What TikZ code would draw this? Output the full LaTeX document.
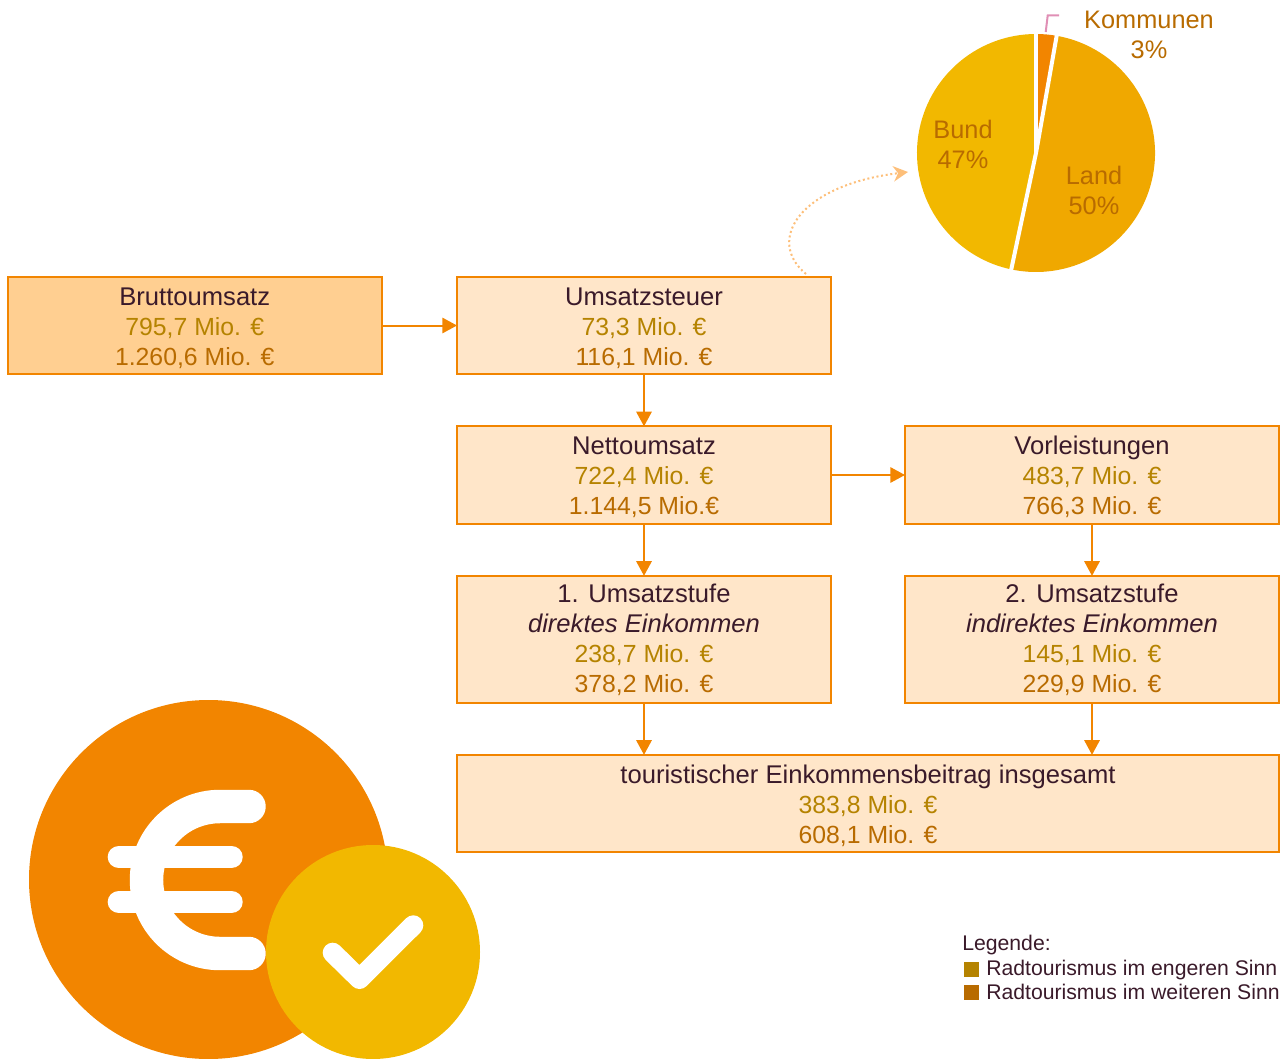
\documentclass[tikz,border=0pt]{standalone}
\usepackage{fontspec}
\setmainfont{Liberation Sans}
\usetikzlibrary{arrows.meta,calc}
\definecolor{orangeM}{HTML}{F28500}
\definecolor{yellowM}{HTML}{F2B800}
\definecolor{landM}{HTML}{F0A800}
\definecolor{boxL}{HTML}{FFE6C9}
\definecolor{boxD}{HTML}{FFCF91}
\definecolor{darkT}{HTML}{3A1A2A}
\definecolor{engT}{HTML}{B58300}
\definecolor{weiT}{HTML}{B86B00}
\definecolor{arcL}{HTML}{FDBF7A}
\definecolor{pinkL}{HTML}{E08FB5}
\newcommand{\eng}[1]{{\fontsize{18.6pt}{22.5pt}\selectfont\textcolor{engT}{#1}}}
\newcommand{\wei}[1]{{\fontsize{18.6pt}{22.5pt}\selectfont\textcolor{weiT}{#1}\rule[-3.2pt]{0pt}{3.2pt}}}
\newcommand{\topthree}{\rule{0pt}{18pt}}
\newcommand{\topfour}{\rule{0pt}{15.7pt}}
\tikzset{
  flowbox/.style={draw=orangeM,fill=boxL,line width=1.5pt,inner sep=0pt,outer sep=0pt,
    align=center,text=darkT,minimum width=280.5pt,minimum height=73pt,
    font=\fontsize{19.2pt}{22.5pt}\selectfont},
  flowarrow/.style={draw=orangeM,line width=1.5pt,-{Triangle[length=11pt,width=11.5pt]}},
  pielabel/.style={inner sep=0pt,align=center,text=weiT,font=\fontsize{19pt}{22.5pt}\selectfont},
  legendtext/.style={inner sep=0pt,anchor=base west,text=darkT,font=\fontsize{15.9pt}{18pt}\selectfont},
  legendkey/.style={inner sep=0pt,minimum size=11.25pt,anchor=north west}
}
\begin{document}
\begin{tikzpicture}[x=0.75pt,y=-0.75pt]
\useasboundingbox (0,0) rectangle (1284,1059);
% pie
\coordinate (pc) at (1036,153);
\fill[yellowM] (pc) -- ++(102:119) arc[start angle=102,end angle=270,radius=119] -- cycle;
\fill[landM] (pc) -- ++(-80:119) arc[start angle=-80,end angle=102,radius=119] -- cycle;
\fill[orangeM] (pc) -- ++(-90:119) arc[start angle=-90,end angle=-80,radius=119] -- cycle;
\draw[white,line width=3pt] (pc) -- ++(-90:121);
\draw[white,line width=3pt,line join=bevel] ($(pc)+(-80:121)$) -- (pc) -- ($(pc)+(102:121)$);
\node[pielabel] (lbund) at (963,144) {Bund\\47\%};
\node[pielabel] (lland) at (1094,190) {Land\\50\%};
\node[pielabel] (lkomm) at (1149,35) {Kommunen\\3\%};
\coordinate (la) at (1045.7,32);
\coordinate (lb) at (1047.7,15.5);
\coordinate (lc) at (1059,15.5);
\draw[pinkL,line width=1.5pt] (la) -- (lb) -- (lc);
% boxes
\node[flowbox,fill=boxD] (brutto) at (194.75,325.5) {\topthree Bruttoumsatz\\\eng{795,7 Mio. €}\\\wei{1.260,6 Mio. €}};
\node[flowbox] (ust) at (644,325.5) {\topthree Umsatzsteuer\\\eng{73,3 Mio. €}\\\wei{116,1 Mio. €}};
\node[flowbox] (netto) at (644,475) {\topthree Nettoumsatz\\\eng{722,4 Mio. €}\\\wei{1.144,5 Mio.€}};
\node[flowbox] (vor) at (1092,475) {\topthree Vorleistungen\\\eng{483,7 Mio. €}\\\wei{766,3 Mio. €}};
\node[flowbox,minimum height=95.5pt] (st1) at (644,639.5) {\topfour 1. Umsatzstufe\\\textit{direktes Einkommen}\\\eng{238,7 Mio. €}\\\wei{378,2 Mio. €}};
\node[flowbox,minimum height=95.5pt] (st2) at (1092,639.5) {\topfour 2. Umsatzstufe\\\textit{indirektes Einkommen}\\\eng{145,1 Mio. €}\\\wei{229,9 Mio. €}};
\node[flowbox,minimum width=616.5pt] (tot) at (868,803.5) {\topthree touristischer Einkommensbeitrag insgesamt\\\eng{383,8 Mio. €}\\\wei{608,1 Mio. €}};
% connectors
\draw[flowarrow] (brutto) -- (ust);
\draw[flowarrow] (ust) -- (netto);
\draw[flowarrow] (netto) -- (vor);
\draw[flowarrow] (netto) -- (st1);
\draw[flowarrow] (vor) -- (st2);
\draw[flowarrow] (st1.south) -- (st1.south |- tot.north);
\draw[flowarrow] (st2.south) -- (st2.south |- tot.north);
\coordinate (arcstart) at (806,274);
\coordinate (arcend) at (908,172);
\draw[arcL,line width=1.5pt,dotted,-{Stealth[length=11pt,width=11.5pt,inset=3.5pt]}] (arcstart) .. controls (765,240) and (800,185) .. (arcend);
% icon
\fill[orangeM] (208.5,879.5) circle[radius=179.5];
\draw[white,line width=25.1pt,line cap=round] (249,806.5) -- (220,806.5) arc[start angle=-90,end angle=-270,radius=73.5] -- (249,953.5);
\draw[white,line width=17pt,line cap=round] (119,857) -- (231.4,857);
\draw[white,line width=17pt,line cap=round] (119,902) -- (231.4,902);
\fill[yellowM] (373,952) circle[radius=107];
\draw[white,line width=15pt,line cap=round,line join=round] (332.7,952.7) -- (359.5,979) -- (413.3,925.3);
% legend
\node[legendtext] (lg) at (962,950) {Legende:};
\node[legendkey,fill=engT] (k1) at (963.3,961.5) {};
\node[legendkey,fill=weiT] (k2) at (963.3,985) {};
\node[legendtext] (t1) at (986,975) {Radtourismus im engeren Sinn};
\node[legendtext] (t2) at (986,999.3) {Radtourismus im weiteren Sinn};
\end{tikzpicture}
\end{document}
